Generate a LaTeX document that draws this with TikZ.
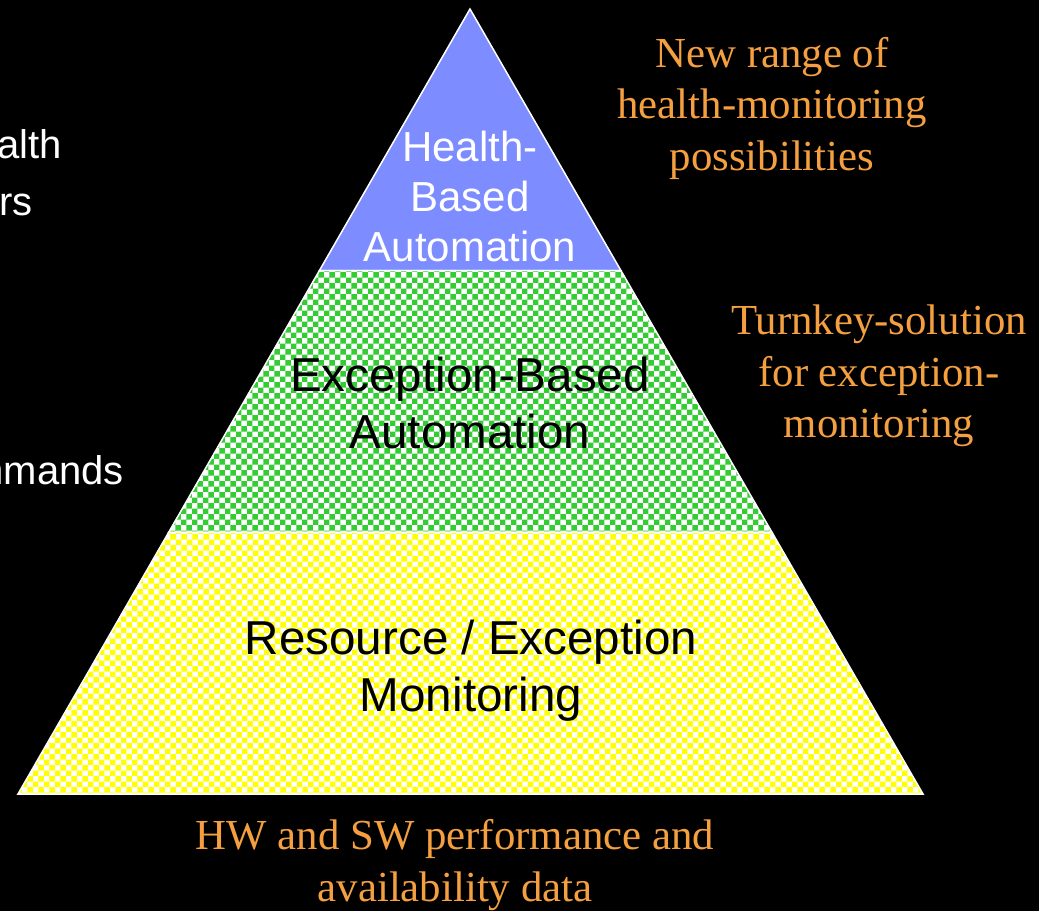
\documentclass[tikz,border=0pt]{standalone}
\usepackage{fontspec}
\setmainfont{Liberation Serif}
\setsansfont{Liberation Sans}
\usetikzlibrary{calc,patterns}
\definecolor{healthblue}{RGB}{125,140,255}
\definecolor{excgreen}{RGB}{51,204,51}
\definecolor{resyellow}{RGB}{255,255,0}
\definecolor{noteorange}{RGB}{245,160,64}

\begin{document}
\begin{tikzpicture}[x=1pt,y=-1pt]
    \tikzstyle{tier}=[draw=white, line width=1.5pt, line join=miter]
    \tikzstyle{dither}=[tier, preaction={fill=white}, pattern=checkerboard]
    \tikzstyle{tier label}=[font={\sffamily\fontsize{47.6}{57}\selectfont}, align=center, text=black, inner sep=0pt]
    \tikzstyle{top label}=[tier label, font={\sffamily\fontsize{42}{50}\selectfont}, text=white]
    \tikzstyle{note}=[font={\rmfamily\fontsize{42.8}{51.5}\selectfont}, align=center, text=noteorange, inner sep=0pt]
    \tikzstyle{cut}=[font={\sffamily\fontsize{40}{48}\selectfont}, text=white, inner sep=0pt, anchor=base east]

    % Background and page size
    \fill[black] (0,0) rectangle (1039,911);
    \useasboundingbox (0,0) rectangle (1039,911);

    % Corners of the pyramid and the points where the tiers meet
    \coordinate (apex) at (470,9);
    \coordinate (BL) at (18,794);
    \coordinate (BR) at (923,794);
    \foreach \name / \t in {1/{1/3},2/{2/3}} {
        \coordinate (L-\name) at ($(apex)!\t!(BL)$);
        \coordinate (R-\name) at ($(apex)!\t!(BR)$);
    }

    % Draw the three tiers
    \path[tier, fill=healthblue] (apex) -- (R-1) -- (L-1) -- cycle;
    \path[dither, pattern color=excgreen] (L-1) -- (R-1) -- (R-2) -- (L-2) -- cycle;
    \path[dither, pattern color=resyellow] (L-2) -- (R-2) -- (BR) -- (BL) -- cycle;

    % Tier labels
    \node[top label] (health) at (470,196) {Health-\\Based\\Automation};
    \node[tier label] (exception) at (470,403) {Exception-Based\\Automation};
    \node[tier label] (resource) at (471,671) {Resource / Exception\\Monitoring};

    % Notes beside and below the pyramid
    \node[note] (range) at (772,108) {New range of\\health-monitoring\\possibilities};
    \node[note] (turnkey) at (879,376) {Turnkey-solution\\for exception-\\monitoring};
    \node[note] (data) at (455,865) {HW and SW performance and\\availability data};

    % Text cut off at the left edge
    \node[cut] (cut-1) at (62,158) {alth};
    \node[cut] (cut-2) at (33,215) {rs};
    \node[cut] (cut-3) at (124,484) {mmands};
\end{tikzpicture}
\end{document}
